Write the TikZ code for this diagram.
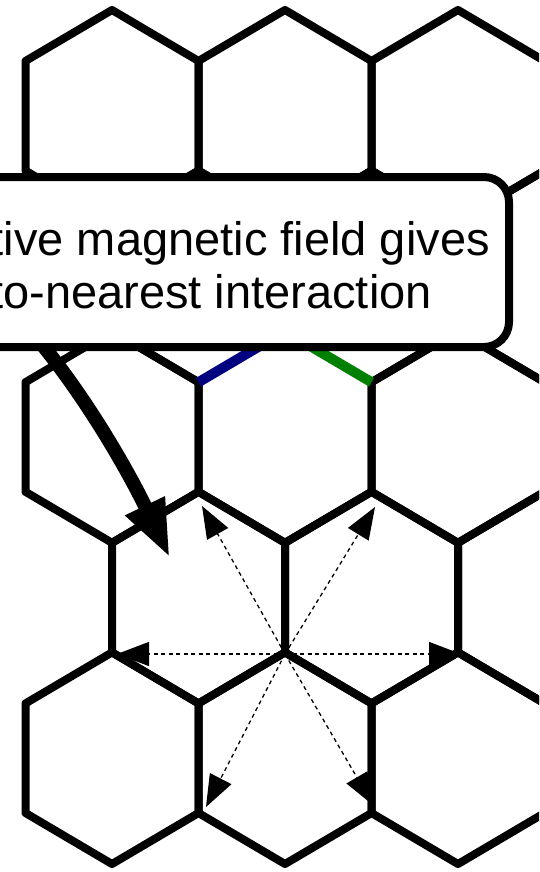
\documentclass[tikz,border=0pt]{standalone}
\usepackage{fontspec}
\setmainfont{Liberation Sans}
\usetikzlibrary{arrows.meta}
\definecolor{edgeblue}{RGB}{0,0,128}
\definecolor{edgegreen}{RGB}{0,128,0}
\tikzset{
  hexline/.style={draw=black, line width=8pt, line join=round},
  blueedge/.style={draw=edgeblue, line width=10pt},
  greenedge/.style={draw=edgegreen, line width=10pt},
  nnarrow/.style={draw=black, line width=1.3pt, dash pattern=on 4pt off 3.5pt, -{Triangle[length=32pt,width=24pt]}},
  bigarrow/.style={draw=black, line width=14pt, -{Triangle[length=58pt,width=40pt]}},
  callout/.style={draw=black, fill=white, line width=8pt, rounded corners=25pt, outer sep=0pt, inner sep=0pt},
  textline/.style={inner sep=0pt, font=\fontsize{47}{54}\selectfont}
}
\begin{document}
\begin{tikzpicture}[x=1pt,y=-1pt]
\useasboundingbox (0,0) rectangle (539,872);
\clip (0,0) rectangle (539,872);
\fill[white] (0,0) rectangle (539,872);
% honeycomb lattice
\foreach \cx/\r in {112/0,285/0,458/0,631/0,
                    198.5/1,371.5/1,544.5/1,
                    112/2,285/2,458/2,631/2,
                    198.5/3,371.5/3,544.5/3,
                    112/4,285/4,458/4,631/4}{
  \pgfmathsetmacro\T{10+160.6*\r}
  \path[hexline] (\cx,\T) -- ({\cx+86.5},{\T+51}) -- ({\cx+86.5},{\T+160.6})
     -- (\cx,{\T+211.6}) -- ({\cx-86.5},{\T+160.6}) -- ({\cx-86.5},{\T+51}) -- cycle;
}
% coloured bonds
\draw[blueedge] (198.5,382.2) -- (285,331.2);
\draw[greenedge] (285,331.2) -- (371.5,382.2);
% next-nearest-neighbour arrows
\coordinate (src) at (285,654);
\coordinate (ul) at (202,506);
\coordinate (ur) at (375,507);
\coordinate (lt) at (117,654);
\coordinate (rt) at (461,654);
\coordinate (ll) at (206,807);
\coordinate (lr) at (373,805);
\foreach \t in {ul,ur,lt,rt,ll,lr}{\draw[nnarrow] (src) -- (\t);}
% thick curved arrow
\coordinate (bstart) at (30,330);
\coordinate (btip) at (170,558);
\draw[bigarrow] (bstart) .. controls (90,400) and (134,483) .. (btip);
% callout box
\node[callout, minimum width=700pt, minimum height=170pt, anchor=north east] (box) at (509,177) {};
\node[textline, anchor=base east] (line1) at (490,255) {tive magnetic field gives};
\node[textline, anchor=base east] (line2) at (432,308) {to-nearest interaction};
\end{tikzpicture}
\end{document}
